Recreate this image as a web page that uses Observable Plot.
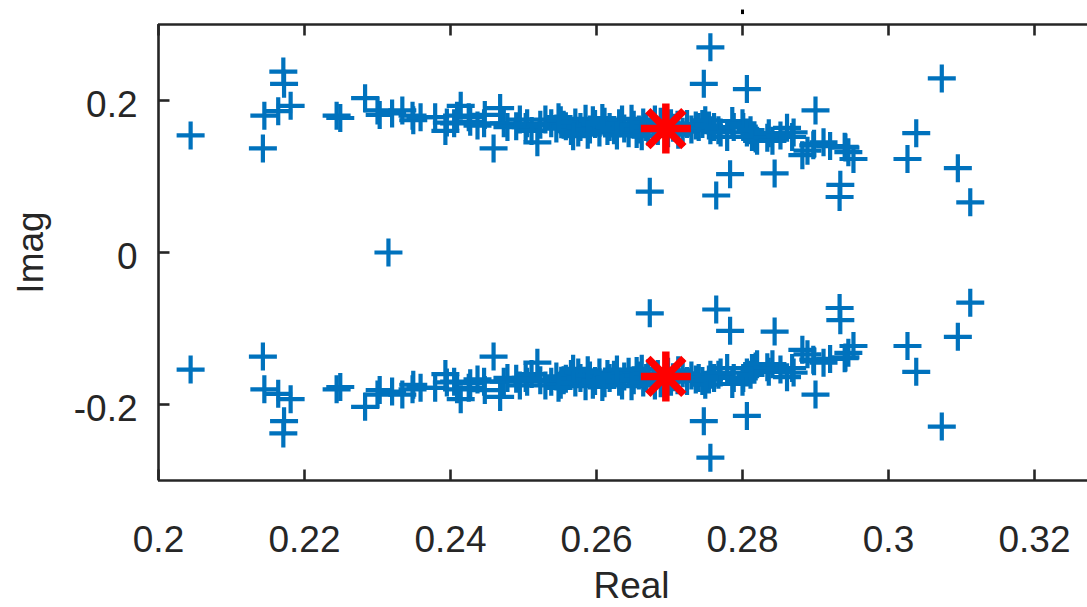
<!DOCTYPE html>
<html>
<head>
<meta charset="utf-8">
<script src="https://cdn.jsdelivr.net/npm/d3@7"></script>
<script src="https://cdn.jsdelivr.net/npm/@observablehq/plot@0.6"></script>
<style>
  html, body { margin: 0; padding: 0; background: #ffffff; }
  #chart svg { display: block; }
</style>
</head>
<body>
<div id="chart"></div>
<script>
// ---- Data: eigenvalues with positive imaginary part (conjugates are drawn mirrored) ----
const upperReal = [
  0.2044, 0.2143, 0.2145, 0.2164, 0.2181, 0.2171, 0.2172, 0.2244, 0.2249, 0.2283,
  0.2300, 0.2303, 0.2320, 0.2334, 0.2348, 0.2349, 0.2359, 0.2379, 0.2393, 0.2395,
  0.2405, 0.2409, 0.2414, 0.2425, 0.2427, 0.2437, 0.2446, 0.2447, 0.2459, 0.2468,
  0.2473, 0.2478, 0.2490, 0.2495, 0.2503, 0.2505, 0.2511, 0.2519, 0.2523, 0.2530,
  0.2538, 0.2545, 0.2551, 0.2555, 0.2558, 0.2565, 0.2571, 0.2575, 0.2578, 0.2585,
  0.2591, 0.2595, 0.2598, 0.2604, 0.2611, 0.2615, 0.2618, 0.2624, 0.2631, 0.2635,
  0.2638, 0.2644, 0.2651, 0.2655, 0.2658, 0.2664, 0.2668, 0.2671, 0.2678, 0.2684,
  0.2688, 0.2691, 0.2698, 0.2702, 0.2705, 0.2711, 0.2712, 0.2718, 0.2724, 0.2730,
  0.2736, 0.2740, 0.2745, 0.2749, 0.2754, 0.2756, 0.2761, 0.2767, 0.2770, 0.2779,
  0.2786, 0.2788, 0.2800, 0.2801, 0.2806, 0.2811, 0.2813, 0.2818, 0.2820, 0.2834,
  0.2836, 0.2841, 0.2852, 0.2861, 0.2868, 0.2870, 0.2882, 0.2889, 0.2897, 0.2898,
  0.2911, 0.2920, 0.2940, 0.2941, 0.2945, 0.2952,
  0.2548, 0.2568, 0.2588, 0.2608, 0.2628, 0.2648, 0.2662, 0.2680,
  0.2756, 0.2747, 0.2806, 0.2900, 0.2673, 0.2764, 0.2783, 0.2844, 0.2934, 0.2933,
  0.3073, 0.3038, 0.3026, 0.3095, 0.3112
];
const upperImag = [
  0.154, 0.137, 0.180, 0.186, 0.193, 0.238, 0.222, 0.180, 0.177, 0.203,
  0.187, 0.181, 0.183, 0.187, 0.180, 0.174, 0.178, 0.178, 0.160, 0.171,
  0.170, 0.180, 0.193, 0.178, 0.172, 0.167, 0.170, 0.181, 0.137, 0.190,
  0.170, 0.165, 0.166, 0.175, 0.165, 0.170, 0.160, 0.145, 0.168, 0.175,
  0.170, 0.163, 0.174, 0.168, 0.166, 0.160, 0.171, 0.158, 0.165, 0.176,
  0.162, 0.174, 0.169, 0.158, 0.172, 0.160, 0.165, 0.161, 0.170, 0.175,
  0.163, 0.157, 0.168, 0.156, 0.162, 0.171, 0.165, 0.159, 0.166, 0.160,
  0.172, 0.169, 0.157, 0.170, 0.164, 0.168, 0.155, 0.159, 0.169, 0.162,
  0.167, 0.165, 0.169, 0.174, 0.167, 0.161, 0.165, 0.161, 0.158, 0.152,
  0.173, 0.165, 0.170, 0.165, 0.158, 0.161, 0.152, 0.150, 0.147, 0.151,
  0.157, 0.147, 0.154, 0.164, 0.152, 0.158, 0.128, 0.134, 0.141, 0.143,
  0.145, 0.140, 0.139, 0.138, 0.132, 0.123,
  0.178, 0.153, 0.155, 0.177, 0.154, 0.176, 0.153, 0.175,
  0.270, 0.222, 0.215, 0.187, 0.080, 0.075, 0.103, 0.104, 0.089, 0.073,
  0.229, 0.157, 0.123, 0.111, 0.066
];
// purely real eigenvalue
const realOnlyReal = [0.2315];
const realOnlyImag = [0];
// highlighted eigenvalue pair
const starReal = [0.2695];
const starImag = [0.163];

const xTicks = [0.2, 0.22, 0.24, 0.26, 0.28, 0.3, 0.32];
const xTickLabels = ["0.2", "0.22", "0.24", "0.26", "0.28", "0.3", "0.32"];
const yTicks = [0.2, 0, -0.2];
const yTickLabels = ["0.2", "0", "-0.2"];
const xLabel = "Real";
const yLabel = "Imag";

// ---- Build tables ----
const points = [];
upperReal.forEach((re, i) => {
  points.push({re, im: upperImag[i]});
  points.push({re, im: -upperImag[i]});
});
realOnlyReal.forEach((re, i) => points.push({re, im: realOnlyImag[i]}));
const stars = [];
starReal.forEach((re, i) => {
  stars.push({re, im: starImag[i]});
  stars.push({re, im: -starImag[i]});
});
const xTickData = xTicks.map((v, i) => ({v, label: xTickLabels[i]}));
const yTickData = yTicks.map((v, i) => ({v, label: yTickLabels[i]}));

// ---- Custom stroke symbols (shape = style) ----
const len = (size) => Math.sqrt(size / Math.PI);
const plusSym = {draw(c, s) { const r = len(s); c.moveTo(-r, 0); c.lineTo(r, 0); c.moveTo(0, -r); c.lineTo(0, r); }};
const timesSym = {draw(c, s) { const r = len(s); c.moveTo(-r, -r); c.lineTo(r, r); c.moveTo(-r, r); c.lineTo(r, -r); }};
const tickDown = {draw(c, s) { const r = len(s); c.moveTo(0, 0); c.lineTo(0, r); }};
const tickUp = {draw(c, s) { const r = len(s); c.moveTo(0, 0); c.lineTo(0, -r); }};
const tickRight = {draw(c, s) { const r = len(s); c.moveTo(0, 0); c.lineTo(r, 0); }};
const tickAbove = {draw(c, s) { const r = len(s); c.moveTo(0, -r * 1.6); c.lineTo(0, -r * 2.3); }};

const axisColor = "#262626";
const blue = "#0072BD";
const red = "#FF0000";
const W = 1087, H = 607;
const mL = 158, mT = 24, mB = 127;
const pxPerUnit = 7300;

const chart = Plot.plot({
  width: W,
  height: H,
  marginLeft: mL,
  marginRight: 0,
  marginTop: mT,
  marginBottom: mB,
  x: {domain: [0.2, 0.2 + (W - mL) / pxPerUnit], axis: null},
  y: {domain: [-0.3, 0.3], axis: null},
  style: {fontFamily: "'Liberation Sans', Arial, Helvetica, sans-serif", fontSize: "37px", color: axisColor, background: "#ffffff", overflow: "visible"},
  marks: [
    // data
    Plot.dot(points, {x: "re", y: "im", symbol: plusSym, r: 14, fill: "none", stroke: blue, strokeWidth: 4.2}),
    Plot.dot(stars, {x: "re", y: "im", symbol: plusSym, r: 25, fill: "none", stroke: red, strokeWidth: 7.5}),
    Plot.dot(stars, {x: "re", y: "im", symbol: timesSym, r: 18, fill: "none", stroke: red, strokeWidth: 7.5}),
    // frame (left, top, bottom; right side is outside the picture)
    Plot.ruleX([0.2], {stroke: axisColor, strokeWidth: 2.6}),
    Plot.ruleY([-0.3, 0.3], {stroke: axisColor, strokeWidth: 2.6}),
    // inward ticks
    Plot.dot(xTickData, {x: "v", y: () => 0.3, symbol: tickDown, r: 11, fill: "none", stroke: axisColor, strokeWidth: 2.6}),
    Plot.dot(xTickData, {x: "v", y: () => -0.3, symbol: tickUp, r: 11, fill: "none", stroke: axisColor, strokeWidth: 2.6}),
    Plot.dot(yTickData, {x: () => 0.2, y: "v", symbol: tickRight, r: 11, fill: "none", stroke: axisColor, strokeWidth: 2.6}),
    Plot.dot(xTickData.filter(d => d.v === 0.28), {x: "v", y: () => 0.3, symbol: tickAbove, r: 6.5, fill: "none", stroke: "#000", strokeWidth: 3}),
    // tick labels
    Plot.text(xTickData, {x: "v", text: "label", frameAnchor: "bottom", dy: 60, lineAnchor: "middle", textAnchor: "middle", fill: axisColor}),
    Plot.text(yTickData, {y: "v", text: "label", frameAnchor: "left", dx: -21, dy: 5, lineAnchor: "middle", textAnchor: "end", fill: axisColor}),
    // axis titles
    Plot.text([xLabel], {text: d => d, frameAnchor: "bottom", dx: (631 - mL) - (W - mL) / 2, dy: 106, lineAnchor: "middle", textAnchor: "middle", fill: axisColor}),
    Plot.text([yLabel], {text: d => d, frameAnchor: "left", dx: -(mL - 31), rotate: -90, lineAnchor: "middle", textAnchor: "middle", fill: axisColor})
  ]
});
document.getElementById("chart").appendChild(chart);
</script>
</body>
</html>
